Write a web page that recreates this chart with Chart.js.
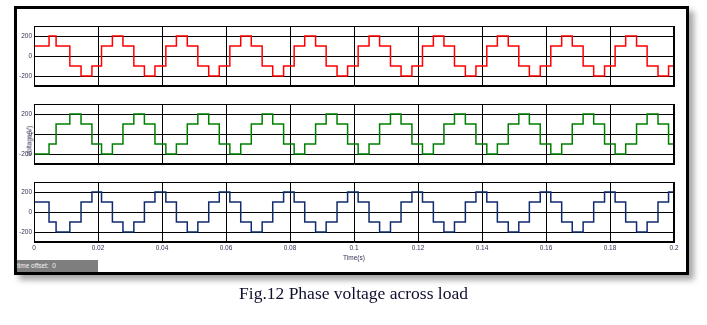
<!DOCTYPE html>
<html><head><meta charset="utf-8">
<script src="https://cdn.jsdelivr.net/npm/chart.js@4.4.0/dist/chart.umd.min.js"></script>
<style>
html,body{margin:0;padding:0;background:#fff;width:707px;height:325px;overflow:hidden;}
#frame{position:absolute;left:14px;top:6px;width:675px;height:269px;box-sizing:border-box;border:3px solid #000;background:#fff;box-shadow:5px 5px 6px rgba(0,0,0,0.35);}
canvas{position:absolute;left:0;}
#offset{position:absolute;left:17px;top:260px;width:81px;height:12px;background:#7e7e7e;color:#f4f4f4;font:6.5px 'Liberation Sans',Arial,sans-serif;line-height:12px;white-space:nowrap;overflow:hidden;}
#ylab{position:absolute;left:28.8px;top:140.5px;transform:translate(-50%,-50%) rotate(-90deg);font:6.5px 'Liberation Sans',Arial,sans-serif;color:#333355;white-space:nowrap;}
#cap{position:absolute;left:0;width:707px;top:283px;text-align:center;font:17.5px 'Liberation Serif','Times New Roman',serif;line-height:20px;color:#10102e;white-space:nowrap;}
</style></head>
<body>
<div id="frame"></div>
<canvas id="cRed" width="707" height="80" style="top:16px;width:707px;height:80px"></canvas>
<canvas id="cGreen" width="707" height="80" style="top:94px;width:707px;height:80px"></canvas>
<canvas id="cBlue" width="707" height="100" style="top:172px;width:707px;height:100px"></canvas>
<div id="ylab">Voltage(V)</div>
<div id="offset">time offset:&nbsp; 0</div>
<div id="cap">Fig.12 Phase voltage across load</div>
<script>
// ---- data ----
const switchTimes = [0, 0.0047, 0.0069, 0.0112, 0.0147, 0.0181, 0.0211, 0.0245, 0.0278, 0.0312,
  0.0345, 0.0378, 0.0412, 0.0445, 0.0479, 0.0512, 0.0546, 0.0579, 0.0612, 0.0646,
  0.0679, 0.0713, 0.0746, 0.0780, 0.0813, 0.0846, 0.0880, 0.0913, 0.0947, 0.0980,
  0.1013, 0.1047, 0.1080, 0.1114, 0.1147, 0.1181, 0.1214, 0.1248, 0.1281, 0.1314,
  0.1348, 0.1381, 0.1415, 0.1448, 0.1482, 0.1515, 0.1548, 0.1582, 0.1615, 0.1649,
  0.1682, 0.1716, 0.1749, 0.1783, 0.1816, 0.1849, 0.1883, 0.1916, 0.1950, 0.1983];
const endTime = 0.2;
const redLevels = [
  100, 200, 100, -100, -200, -100,  100, 200, 100, -100, -200, -100,
  100, 200, 100, -100, -200, -100,  100, 200, 100, -100, -200, -100,
  100, 200, 100, -100, -200, -100,  100, 200, 100, -100, -200, -100,
  100, 200, 100, -100, -200, -100,  100, 200, 100, -100, -200, -100,
  100, 200, 100, -100, -200, -100,  100, 200, 100, -100, -200, -100];
const greenLevels = [
  -200, -100, 100, 200, 100, -100,  -200, -100, 100, 200, 100, -100,
  -200, -100, 100, 200, 100, -100,  -200, -100, 100, 200, 100, -100,
  -200, -100, 100, 200, 100, -100,  -200, -100, 100, 200, 100, -100,
  -200, -100, 100, 200, 100, -100,  -200, -100, 100, 200, 100, -100,
  -200, -100, 100, 200, 100, -100,  -200, -100, 100, 200, 100, -100];
const blueLevels = [
  100, -100, -200, -100, 100, 200,  100, -100, -200, -100, 100, 200,
  100, -100, -200, -100, 100, 200,  100, -100, -200, -100, 100, 200,
  100, -100, -200, -100, 100, 200,  100, -100, -200, -100, 100, 200,
  100, -100, -200, -100, 100, 200,  100, -100, -200, -100, 100, 200,
  100, -100, -200, -100, 100, 200,  100, -100, -200, -100, 100, 200];
const initialLevels = {red: -100, green: 0, blue: 200};
const xTickValues = [0, 0.02, 0.04, 0.06, 0.08, 0.1, 0.12, 0.14, 0.16, 0.18, 0.2];
const xTickLabels = ['0', '0.02', '0.04', '0.06', '0.08', '0.1', '0.12', '0.14', '0.16', '0.18', '0.2'];
const yTickValues = [-200, 0, 200];
const yTickLabels = ['-200', '0', '200'];

// ---- chart construction ----
const FONT = "'Liberation Sans', Arial, sans-serif";
const LABEL_COLOR = '#333355';

function buildPoints(levels, init) {
  const pts = [{x: 0, y: init}];
  for (let i = 0; i < switchTimes.length; i++) pts.push({x: switchTimes[i], y: levels[i]});
  pts.push({x: endTime, y: levels[levels.length - 1]});
  return pts;
}

const framePlugin = {
  id: 'frame',
  afterDraw(chart) {
    const {ctx, chartArea: a} = chart;
    ctx.save();
    ctx.strokeStyle = '#000';
    ctx.lineWidth = 1;
    ctx.strokeRect(Math.round(a.left) + 0.5, Math.round(a.top) + 0.5,
      Math.round(a.right) - Math.round(a.left) - 1, Math.round(a.bottom) - Math.round(a.top) - 1);
    ctx.restore();
  }
};

function makeChart(id, levels, init, color, showX) {
  return new Chart(document.getElementById(id), {
    type: 'line',
    data: {datasets: [{data: buildPoints(levels, init), borderColor: color, borderWidth: 1.5,
      stepped: true, pointRadius: 0, fill: false}]},
    options: {
      responsive: false, maintainAspectRatio: false, animation: false, devicePixelRatio: 1,
      parsing: false, normalized: true,
      layout: {padding: {left: 0, right: 33, top: 10, bottom: 10}},
      plugins: {legend: {display: false}, tooltip: {enabled: false}},
      scales: {
        x: {
          type: 'linear', min: 0, max: endTime,
          afterBuildTicks: a => { a.ticks = xTickValues.map(v => ({value: v})); },
          afterFit: a => { a.height = showX ? 20 : 0; },
          grid: {color: '#000', lineWidth: 1, drawTicks: false},
          border: {display: true, color: '#000', width: 1},
          ticks: {display: showX, padding: 2, autoSkip: false, maxRotation: 0, color: LABEL_COLOR,
            font: {size: 6.5, family: FONT}, callback: (v, i) => xTickLabels[i]},
          title: {display: showX, text: 'Time(s)', color: LABEL_COLOR, font: {size: 6.5, family: FONT},
            padding: {top: 0, bottom: 0}}
        },
        y: {
          type: 'linear', min: -300, max: 300,
          afterBuildTicks: a => { a.ticks = yTickValues.map(v => ({value: v})); },
          afterFit: a => { a.width = 34; },
          grid: {color: '#000', lineWidth: 1, drawTicks: false},
          border: {display: true, color: '#000', width: 1},
          ticks: {padding: 2, color: LABEL_COLOR, font: {size: 6.5, family: FONT},
            callback: (v, i) => yTickLabels[i]}
        }
      }
    },
    plugins: [framePlugin]
  });
}

makeChart('cRed', redLevels, initialLevels.red, '#ff0000', false);
makeChart('cGreen', greenLevels, initialLevels.green, '#008000', false);
makeChart('cBlue', blueLevels, initialLevels.blue, '#0f2a6e', true);
</script>
</body></html>
